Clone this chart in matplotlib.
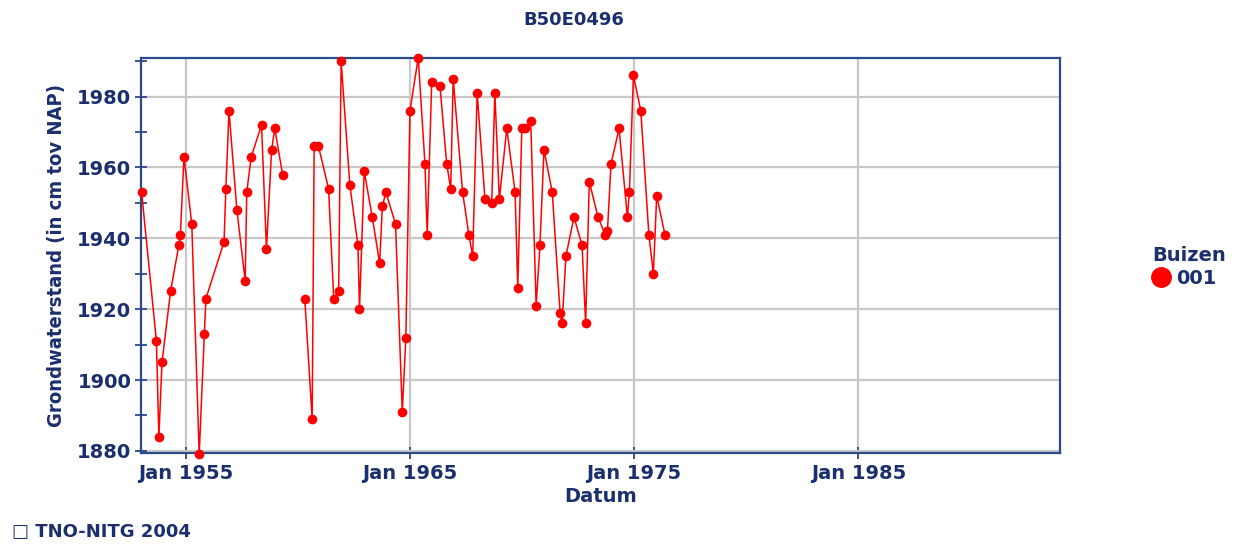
import matplotlib
matplotlib.use("Agg")
import matplotlib.pyplot as plt
import matplotlib.dates as mdates
from matplotlib.lines import Line2D
from datetime import datetime, timedelta
import numpy as np

title = "B50E0496"
ylabel = "Grondwaterstand (in cm tov NAP)"
xlabel = "Datum"
legend_title = "Buizen"
series_name = "001"
footer = "\u25a1 TNO-NITG 2004"

# decimal years of measurements (NaN value marks the gap in the record)
years = [1953.03, 1953.69, 1953.80, 1953.94, 1954.32, 1954.69, 1954.76, 1954.92,
         1955.27, 1955.60, 1955.83, 1955.90, 1956.71, 1956.79, 1956.93, 1957.28,
         1957.65, 1957.72, 1957.92, 1958.38, 1958.60, 1958.83, 1958.97, 1959.32,
         1959.80,
         1960.31, 1960.64, 1960.73, 1960.92, 1961.37, 1961.60, 1961.82, 1961.93,
         1962.32, 1962.68, 1962.75, 1962.96, 1963.32, 1963.65, 1963.77, 1963.93,
         1964.36, 1964.66, 1964.82, 1965.00, 1965.37, 1965.67, 1965.77, 1965.97,
         1966.34, 1966.64, 1966.82, 1966.93, 1967.35, 1967.63, 1967.80, 1968.00,
         1968.35, 1968.65, 1968.79, 1968.99, 1969.32, 1969.69, 1969.81, 1969.99,
         1970.13, 1970.39, 1970.63, 1970.80, 1970.98, 1971.35, 1971.70, 1971.79,
         1971.96, 1972.32, 1972.68, 1972.84, 1973.00, 1973.39, 1973.71, 1973.81,
         1973.97, 1974.33, 1974.70, 1974.79, 1974.97, 1975.30, 1975.66, 1975.86,
         1976.01, 1976.38]

levels = [1953, 1911, 1884, 1905, 1925, 1938, 1941, 1963,
          1944, 1879, 1913, 1923, 1939, 1954, 1976, 1948,
          1928, 1953, 1963, 1972, 1937, 1965, 1971, 1958,
          np.nan,
          1923, 1889, 1966, 1966, 1954, 1923, 1925, 1990,
          1955, 1938, 1920, 1959, 1946, 1933, 1949, 1953,
          1944, 1891, 1912, 1976, 1991, 1961, 1941, 1984,
          1983, 1961, 1954, 1985, 1953, 1941, 1935, 1981,
          1951, 1950, 1981, 1951, 1971, 1953, 1926, 1971,
          1971, 1973, 1921, 1938, 1965, 1953, 1919, 1916,
          1935, 1946, 1938, 1916, 1956, 1946, 1941, 1942,
          1961, 1971, 1946, 1953, 1986, 1976, 1941, 1930,
          1952, 1941]

xtick_years = [1955, 1965, 1975, 1985]
ytick_major = [1880, 1900, 1920, 1940, 1960, 1980]


def to_date(y):
    yi = int(y)
    return datetime(yi, 1, 1) + timedelta(days=(y - yi) * 365.25)


dates = [to_date(y) for y in years]

TEXT = "#1b2f6e"
SPINE = "#2b4a8c"
GRID = "#c8c8c8"
RED = "#ff0000"

fig = plt.figure(figsize=(12.44, 5.45), dpi=100)
ax = fig.add_axes([0.1133, 0.1688, 0.7388, 0.7248])

ax.plot(dates, levels, color=RED, lw=1.1, marker="o", ms=7,
        markeredgewidth=0, clip_on=False, zorder=3)

ax.set_xlim(datetime(1953, 1, 1), datetime(1994, 1, 1))
ax.set_ylim(1879.4, 1990.9)

ax.set_xticks([datetime(y, 1, 1) for y in xtick_years])
ax.xaxis.set_major_formatter(mdates.DateFormatter("%b %Y"))
ax.set_yticks(ytick_major)
ax.set_yticks([v + 10 for v in ytick_major], minor=True)

ax.grid(True, which="major", color=GRID, lw=1.6, zorder=0)
ax.set_axisbelow(True)

for s in ax.spines.values():
    s.set_color(SPINE)
    s.set_linewidth(1.6)

ax.tick_params(axis="both", which="both", direction="inout", color=SPINE,
               width=1.3, labelcolor=TEXT)
ax.tick_params(axis="both", which="major", length=8)
ax.tick_params(axis="y", which="minor", length=8)
ax.tick_params(axis="x", which="major", pad=4)
ax.tick_params(axis="y", which="major", pad=3)

for lab in ax.get_xticklabels() + ax.get_yticklabels():
    lab.set_fontfamily("DejaVu Sans")
    lab.set_fontweight("bold")
    lab.set_fontsize(14)

ax.set_xlabel(xlabel, fontsize=14, fontweight="bold", color=TEXT,
              family="DejaVu Sans", labelpad=3)
ax.set_ylabel(ylabel, fontsize=14.5, fontweight="bold", color=TEXT,
              family="DejaVu Sans", fontstretch="condensed", labelpad=8)

fig.text(574 / 1244, 1 - 20 / 545, title, ha="center", va="center",
         fontsize=13, fontweight="bold", color=TEXT, family="DejaVu Sans")

fig.text(12 / 1244, 1 - 532 / 545, footer, ha="left", va="center",
         fontsize=13, fontweight="bold", color=TEXT, family="DejaVu Sans")

handle = Line2D([], [], color=RED, marker="o", ms=14, lw=0)
leg = ax.legend([handle], [series_name], title=legend_title,
                loc="center left", bbox_to_anchor=(1.09, 0.47),
                frameon=False, handlelength=0.9, handletextpad=0.3,
                borderpad=0, labelspacing=0.2,
                prop={"family": "DejaVu Sans", "weight": "bold", "size": 14},
                title_fontproperties={"family": "DejaVu Sans", "weight": "bold", "size": 14})
leg._legend_box.align = "left"
leg.get_title().set_color(TEXT)
for t in leg.get_texts():
    t.set_color(TEXT)

fig.savefig("out.png", dpi=100)
